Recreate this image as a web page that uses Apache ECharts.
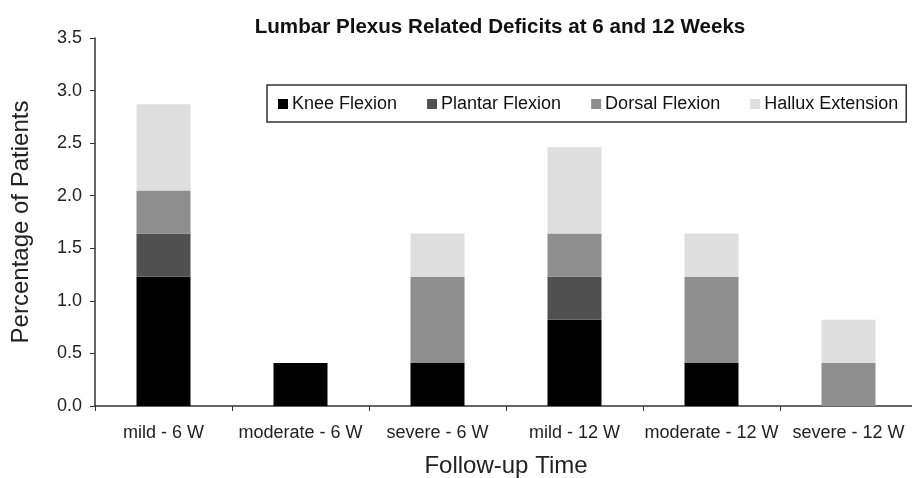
<!DOCTYPE html>
<html>
<head>
<meta charset="utf-8">
<script src="https://cdn.jsdelivr.net/npm/echarts@6/dist/echarts.min.js"></script>
<style>
  html, body { margin: 0; padding: 0; background: #fff; }
  #chart { width: 912px; height: 478px; }
</style>
</head>
<body>
<div id="chart"></div>
<script>
const categories = ['mild - 6 W', 'moderate - 6 W', 'severe - 6 W', 'mild - 12 W', 'moderate - 12 W', 'severe - 12 W']
const kneeFlexion = [1.23, 0.41, 0.41, 0.82, 0.41, 0]
const plantarFlexion = [0.41, 0, 0, 0.41, 0, 0]
const dorsalFlexion = [0.41, 0, 0.82, 0.41, 0.82, 0.41]
const halluxExtension = [0.82, 0, 0.41, 0.82, 0.41, 0.41]

const font = 'Liberation Sans, Arial, sans-serif'

const chart = echarts.init(document.getElementById('chart'))

const makeSeries = (name, data, color) => ({
  name,
  type: 'bar',
  stack: 'total',
  barWidth: 54,
  data,
  itemStyle: { color },
  emphasis: { disabled: true }
})

chart.setOption({
  animation: false,
  title: {
    text: 'Lumbar Plexus Related Deficits at 6 and 12 Weeks',
    left: 495,
    textAlign: 'center',
    top: 12,
    textStyle: { fontFamily: font, fontSize: 20.6, fontWeight: 'bold', color: '#111' }
  },
  legend: {
    left: 267,
    top: 85,
    padding: [10, 8, 9, 11],
    borderColor: '#333',
    borderWidth: 1.5,
    itemWidth: 10,
    itemHeight: 10,
    itemGap: 30,
    icon: 'rect',
    textStyle: { fontFamily: font, fontSize: 18, color: '#111', padding: [0, 0, 0, -1] },
    data: ['Knee Flexion', 'Plantar Flexion', 'Dorsal Flexion', 'Hallux Extension']
  },
  // the reference axis runs a few pixels past the right edge of the image
  grid: { left: 95, right: -5, top: 38, bottom: 72, outerBoundsMode: 'none', containLabel: false },
  xAxis: {
    type: 'category',
    data: categories,
    name: 'Follow-up Time',
    nameLocation: 'middle',
    nameGap: 48,
    nameTextStyle: { fontFamily: font, fontSize: 24, color: '#222' },
    axisLine: { lineStyle: { color: '#333', width: 1.5 } },
    axisTick: { show: true, interval: 0, length: 5, lineStyle: { color: '#333' } },
    axisLabel: { interval: 0, fontFamily: font, fontSize: 18, color: '#222', margin: 18 }
  },
  yAxis: {
    type: 'value',
    min: 0,
    max: 3.5,
    interval: 0.5,
    name: 'Percentage of Patients',
    nameLocation: 'middle',
    nameGap: 62,
    nameTextStyle: { fontFamily: font, fontSize: 24, color: '#222' },
    axisLine: { show: true, lineStyle: { color: '#333', width: 1.5 } },
    axisTick: { show: true, length: 5, lineStyle: { color: '#333' } },
    splitLine: { show: false },
    axisLabel: {
      fontFamily: font, fontSize: 18, color: '#222', margin: 13,
      formatter: v => v.toFixed(1)
    }
  },
  series: [
    makeSeries('Knee Flexion', kneeFlexion, '#000000'),
    makeSeries('Plantar Flexion', plantarFlexion, '#505050'),
    makeSeries('Dorsal Flexion', dorsalFlexion, '#8e8e8e'),
    makeSeries('Hallux Extension', halluxExtension, '#dedede')
  ]
})
</script>
</body>
</html>
